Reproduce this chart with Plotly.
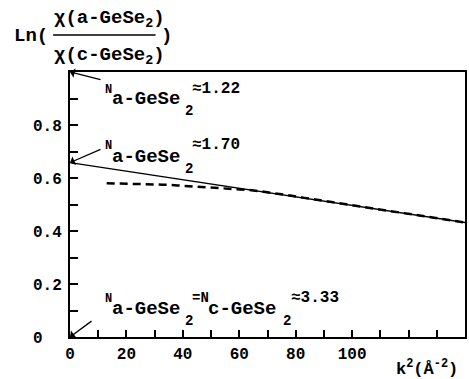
import plotly.graph_objects as go

# ---------------- data ----------------
fit_k2 = [0, 140]
fit_ln = [0.658, 0.432]

data_k2 = [13, 18, 23, 28, 33, 38, 43, 48, 53, 58, 63, 68, 73, 78, 83, 88,
           93, 98, 103, 108, 113, 118, 123, 128, 133, 138, 140]
data_ln = [0.580, 0.579, 0.578, 0.577, 0.575, 0.572, 0.569, 0.565, 0.561,
           0.558, 0.555, 0.549, 0.542, 0.534, 0.525, 0.517, 0.509, 0.500,
           0.492, 0.484, 0.476, 0.467, 0.460, 0.451, 0.443, 0.435, 0.432]

x_tick_vals = [0, 10, 20, 30, 40, 50, 60, 70, 80, 90, 100, 110, 120, 130]
x_tick_text = ["0", "", "20", "", "40", "", "60", "", "80", "", "100", "", "", ""]
y_tick_vals = [0, 0.1, 0.2, 0.3, 0.4, 0.5, 0.6, 0.7, 0.8, 0.9]
y_tick_text = ["0&nbsp;&nbsp;", "", "0.2", "", "0.4", "", "0.6", "", "0.8", ""]

n_values = ["1.22", "1.70", "3.33"]
n_points_y = [1.0, 0.658, 0.0]

FONT = "Liberation Mono"

# ---------------- figure ----------------
fig = go.Figure()
fig.add_trace(go.Scatter(x=fit_k2, y=fit_ln, mode="lines",
                         line=dict(color="black", width=1.3), showlegend=False))
fig.add_trace(go.Scatter(x=data_k2, y=data_ln, mode="lines",
                         line=dict(color="black", width=2.5, dash="8px,5px"),
                         showlegend=False))

L, R, T, B = 70, 2, 72, 42
W, H = 469, 379
PW, PH = W - L - R, H - T - B


def px(x):
    return (x - L) / PW


def py(y):
    return (H - B - y) / PH


def label(x, y, text, size, xanchor="left", yanchor="middle"):
    fig.add_annotation(x=px(x), y=py(y), xref="paper", yref="paper",
                       text=text, showarrow=False, xanchor=xanchor,
                       yanchor=yanchor,
                       font=dict(family=FONT, size=size, color="black",
                                 weight="bold"))


# arrows pointing to axis points
arrow_offsets = [(32, 8), (32, -14), (23, -17)]
for yv, (ax, ay) in zip(n_points_y, arrow_offsets):
    fig.add_annotation(x=0, y=yv, xref="x", yref="y", text="", showarrow=True,
                       ax=ax, ay=ay, arrowhead=1, arrowsize=1.2,
                       arrowwidth=1.3, arrowcolor="black")

# N labels
label(103, 90, "N", 12)
label(110, 99, "a-GeSe", 19)
label(184, 111, "2", 14)
label(191, 89, "\u2248" + n_values[0], 16)

label(103, 146, "N", 12)
label(110, 157, "a-GeSe", 19)
label(184, 169, "2", 14)
label(191, 145, "\u2248" + n_values[1], 16)

label(103, 299, "N", 12)
label(110, 309, "a-GeSe", 19)
label(184, 321, "2", 14)
label(191, 298, "=N", 14)
label(207, 309, "c-GeSe", 19)
label(282, 321, "2", 14)
label(290, 298, "\u2248" + n_values[2], 16)

# y title (fraction)
label(12, 36, "Ln(", 19)
label(52, 19, "\u03c7(a-GeSe<sub>2</sub>)", 19)
label(52, 56, "\u03c7(c-GeSe<sub>2</sub>)", 19)
label(159, 36, ")", 19)
fig.add_shape(type="line", xref="paper", yref="paper",
              x0=px(53), x1=px(156), y0=py(35), y1=py(35),
              line=dict(color="black", width=1.5), layer="above")

# x title
label(396, 368, "k<sup>2</sup>(\u00c5<sup>-2</sup>)", 17)

axis_common = dict(showline=True, linecolor="black", linewidth=2, mirror=True,
                   ticks="inside", tickcolor="black", tickwidth=1.5,
                   showgrid=False, zeroline=False,
                   tickfont=dict(family=FONT, size=16, color="black",
                                 weight="bold"))

fig.update_xaxes(range=[0, 140], tickmode="array", tickvals=x_tick_vals,
                 ticktext=x_tick_text, ticklen=7, ticklabelstandoff=1,
                 **axis_common)
fig.update_yaxes(range=[0, 1.0], tickmode="array", tickvals=y_tick_vals,
                 ticktext=y_tick_text, ticklen=8, ticklabelstandoff=3,
                 **axis_common)

fig.update_layout(width=W, height=H,
                  margin=dict(l=L, r=R, t=T, b=B, pad=0),
                  paper_bgcolor="white", plot_bgcolor="white",
                  showlegend=False)

fig.write_html("out.html", config={"displayModeBar": False},
               post_script="document.body.style.margin='0';")
